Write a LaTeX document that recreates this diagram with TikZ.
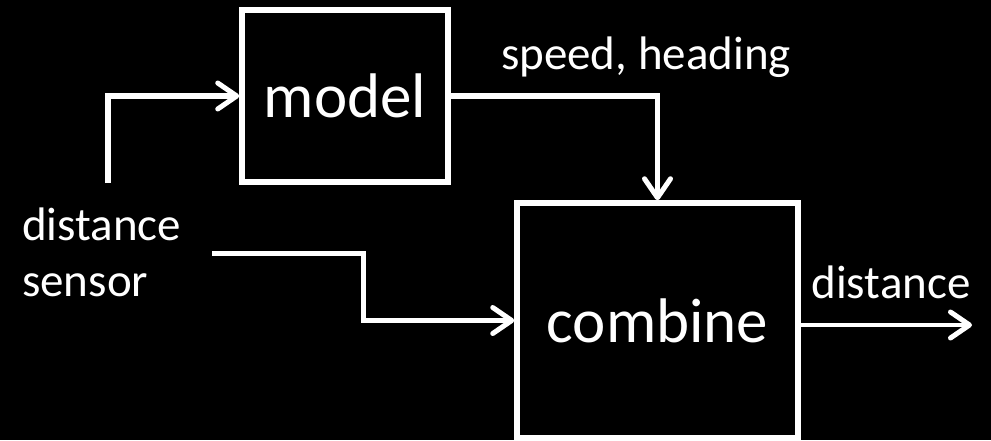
\documentclass[tikz,border=0pt]{standalone}
\usepackage{fontspec}
\setmainfont{Carlito}
\usetikzlibrary{arrows.meta, positioning}
\tikzset{
    >={Straight Barb[length=19pt,width=26pt,line width=5pt,round]}, % open arrow heads
}

\begin{document}
\begin{tikzpicture}[
        x=1pt, y=-1pt,
        block/.style={draw=white, line width=5.5pt, fill=black, text=white, inner sep=0pt, font=\fontsize{63}{63}\selectfont},
        wire/.style={draw=white, line width=5.5pt, ->},
        tag/.style={text=white, inner sep=0pt, font=\fontsize{47}{56}\selectfont},
    ]
    \fill[black] (0,0) rectangle (991,440);
    \useasboundingbox (0,0) rectangle (991,440);
    \node[block, minimum width=206pt, minimum height=172pt] (model) at (345,96) {model};
    \node[block, minimum width=281pt, minimum height=235pt] (combine) at (657.5,320.5) {combine};
    \coordinate (sensorUp) at (108,183);
    \coordinate (sensorIn) at (212,253);
    \coordinate (distOut) at (972,325);
    \node[tag, anchor=west, align=left] (sensor) at (22,252) {distance\\sensor};
    \node[tag] (speed) at (646,57) {speed, heading};
    \node[tag] (dist) at (891,282) {distance};
    \draw[wire] (sensorUp) |- (model.west);
    \draw[wire] (model.east) -| (combine.north);
    \draw[wire, line width=5pt] (sensorIn) -- ++(151,0) |- (combine.west);
    \draw[wire, line width=4pt] (distOut -| combine.east) -- (distOut);
\end{tikzpicture}
\end{document}
